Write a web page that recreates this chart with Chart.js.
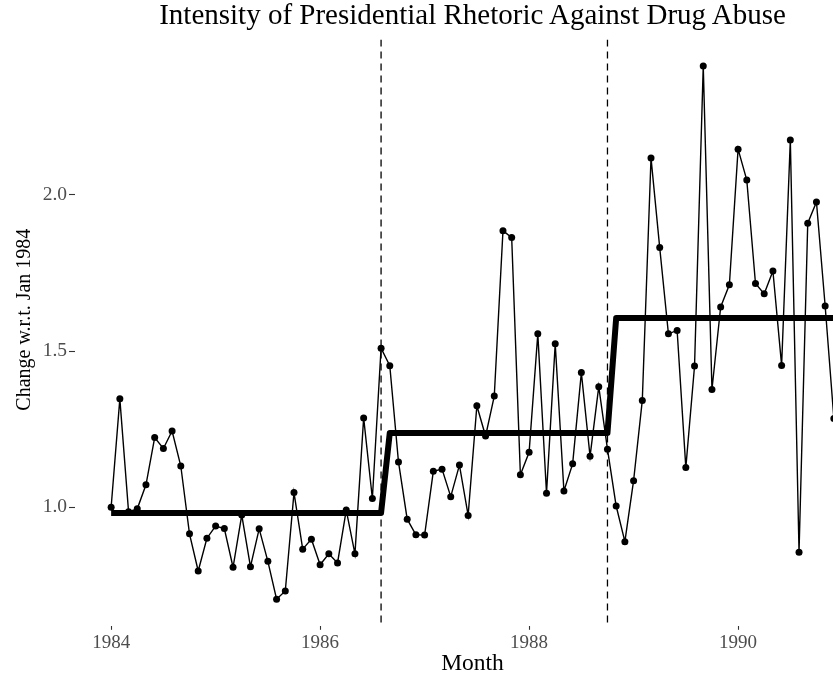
<!DOCTYPE html>
<html>
<head>
<meta charset="utf-8">
<script src="https://cdn.jsdelivr.net/npm/chart.js@4/dist/chart.umd.min.js"></script>
<style>
  html, body { margin: 0; padding: 0; background: #fff; overflow: hidden; }
  #wrap { position: relative; width: 833px; height: 678px; overflow: hidden; }
  #c { position: absolute; left: 0; top: 0; width: 900px; height: 678px; }
  #title {
    position: absolute; left: 0; top: 0; width: 945px;
    text-align: center; white-space: nowrap; color: #000;
    font-family: 'Liberation Serif', serif; font-size: 29px; line-height: 29px;
  }
</style>
</head>
<body>
<div id="wrap">
  <canvas id="c" width="900" height="678"></canvas>
  <div id="title">Intensity of Presidential Rhetoric Against Drug Abuse</div>
</div>
<script>
// Monthly index of presidential rhetoric, Jan 1984 = 1 (month 0 = Jan 1984)
const intensity = [
  1.000, 1.347, 0.986, 0.995, 1.072, 1.223, 1.188, 1.244, 1.132, 0.915, 0.796, 0.901,
  0.940, 0.932, 0.808, 0.975, 0.810, 0.931, 0.827, 0.706, 0.732, 1.047, 0.866, 0.898,
  0.816, 0.851, 0.822, 0.991, 0.851, 1.286, 1.028, 1.509, 1.453, 1.145, 0.962, 0.912,
  0.911, 1.115, 1.122, 1.034, 1.135, 0.974, 1.325, 1.228, 1.356, 1.885, 1.863, 1.104,
  1.176, 1.555, 1.045, 1.523, 1.052, 1.139, 1.431, 1.163, 1.386, 1.186, 1.004, 0.890,
  1.085, 1.342, 2.118, 1.831, 1.555, 1.566, 1.127, 1.452, 2.412, 1.377, 1.641, 1.712,
  2.146, 2.047, 1.716, 1.683, 1.756, 1.454, 2.175, 0.856, 1.909, 1.977, 1.644, 1.284
];

// Break points (months since Jan 1984) and the mean level of each period
const interventionMonths = [31, 57];
const phaseStart = [0, 32, 58];
const phaseEnd = [31, 57, 83];
const phaseMean = [0.982, 1.238, 1.606];

// Axis ticks
const xTickMonths = [0, 24, 48, 72];
const xTickLabels = ['1984', '1986', '1988', '1990'];
const yTickValues = [1.0, 1.5, 2.0];
const yAxisTitle = 'Change w.r.t. Jan 1984';

const serif = "'Liberation Serif', 'Times New Roman', serif";

const observedPoints = intensity.map((v, i) => ({ x: i, y: v }));
const phasePoints = [];
phaseMean.forEach((m, k) => {
  phasePoints.push({ x: phaseStart[k], y: m });
  phasePoints.push({ x: phaseEnd[k], y: m });
});

// Dashed vertical markers at each policy break
const breakLines = {
  id: 'breakLines',
  afterDatasetsDraw(chart) {
    const { ctx, chartArea, scales } = chart;
    ctx.save();
    ctx.beginPath();
    ctx.rect(chartArea.left, chartArea.top, chartArea.right - chartArea.left, chartArea.bottom - chartArea.top);
    ctx.clip();
    ctx.strokeStyle = '#000';
    ctx.lineWidth = 1.3;
    ctx.setLineDash([7, 5]);
    interventionMonths.forEach(m => {
      const x = scales.x.getPixelForValue(m);
      ctx.beginPath();
      ctx.moveTo(x, chartArea.top);
      ctx.lineTo(x, chartArea.bottom);
      ctx.stroke();
    });
    ctx.restore();
  }
};

// Rotated y-axis title, set slightly above the panel's middle
const yTitle = {
  id: 'yTitle',
  afterDraw(chart) {
    const { ctx, chartArea } = chart;
    const cy = (chartArea.top + chartArea.bottom) / 2 - 13;
    ctx.save();
    ctx.translate(25, cy);
    ctx.rotate(-Math.PI / 2);
    ctx.font = '20px ' + serif;
    ctx.fillStyle = '#000';
    ctx.textAlign = 'center';
    ctx.textBaseline = 'middle';
    ctx.fillText(yAxisTitle, 0, 0);
    ctx.restore();
  }
};

new Chart(document.getElementById('c'), {
  type: 'line',
  data: {
    datasets: [
      {
        label: 'Period mean',
        data: phasePoints,
        borderColor: '#000',
        borderWidth: 6,
        pointRadius: 0,
        borderJoinStyle: 'round',
        borderCapStyle: 'butt',
        tension: 0,
        order: 0
      },
      {
        label: 'Intensity',
        data: observedPoints,
        borderColor: '#000',
        borderWidth: 1.4,
        pointRadius: 3.5,
        pointBackgroundColor: '#000',
        pointBorderWidth: 0,
        tension: 0,
        order: 1
      }
    ]
  },
  options: {
    responsive: false,
    animation: false,
    devicePixelRatio: 1,
    layout: { padding: { top: 39.5, right: 30, bottom: 0, left: 0 } },
    plugins: { legend: { display: false }, tooltip: { enabled: false }, title: { display: false } },
    scales: {
      x: {
        type: 'linear',
        min: -4.15,
        max: 87.15,
        afterBuildTicks: s => { s.ticks = xTickMonths.map(v => ({ value: v })); },
        afterFit: s => { s.height = 52.2; },
        ticks: {
          callback: (v, i) => xTickLabels[i],
          font: { family: serif, size: 19 },
          color: '#4d4d4d',
          maxRotation: 0,
          autoSkip: false,
          padding: 2
        },
        grid: { drawOnChartArea: false, drawTicks: true, tickLength: 4, tickColor: '#333', tickWidth: 1.1 },
        border: { display: false },
        title: {
          display: true,
          text: 'Month',
          color: '#000',
          font: { family: serif, size: 23.5 },
          padding: { top: 0, bottom: 0 }
        }
      },
      y: {
        type: 'linear',
        min: 0.6207,
        max: 2.497,
        afterBuildTicks: s => { s.ticks = yTickValues.map(v => ({ value: v })); },
        afterFit: s => { s.width = 75; },
        ticks: {
          callback: v => Number(v).toFixed(1),
          font: { family: serif, size: 19.5 },
          color: '#4d4d4d',
          padding: 2
        },
        grid: { drawOnChartArea: false, drawTicks: true, tickLength: 6, tickColor: '#333', tickWidth: 1.1 },
        border: { display: false },
        title: { display: false }
      }
    }
  },
  plugins: [breakLines, yTitle]
});
</script>
</body>
</html>
